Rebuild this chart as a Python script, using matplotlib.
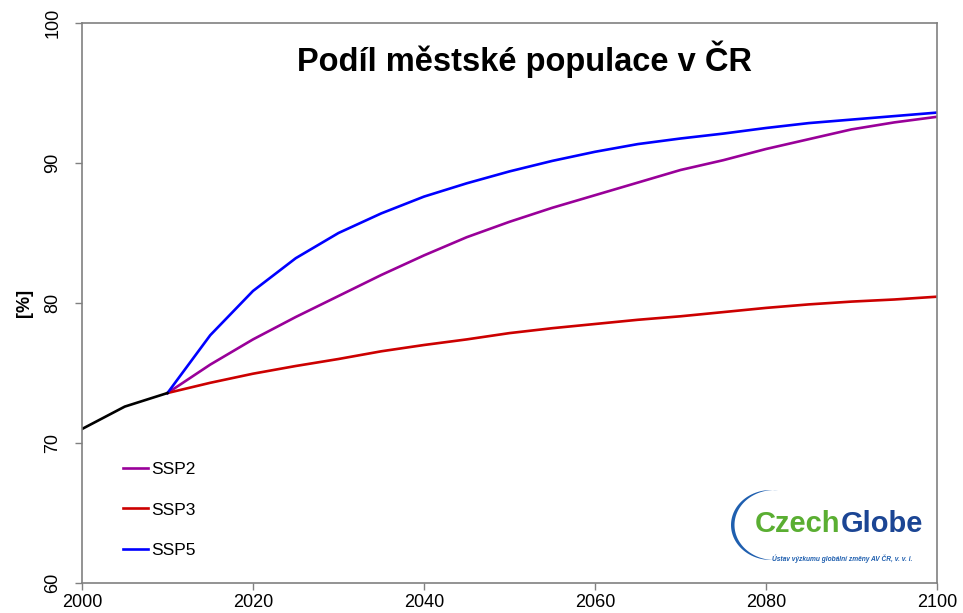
import matplotlib.pyplot as plt
from matplotlib.patches import Polygon
import numpy as np

plt.rcParams['font.family'] = ['Liberation Sans', 'DejaVu Sans']

# historie 2000-2010
roky_hist = [2000, 2005, 2010]
hist = [71.0, 72.6, 73.57]

# scenare SSP 2010-2100 po 5 letech
roky = list(range(2010, 2101, 5))
ssp2 = [73.57, 75.6, 77.4, 79.0, 80.5, 82.0, 83.4, 84.7, 85.8, 86.8, 87.7, 88.6,
        89.5, 90.2, 91.0, 91.7, 92.4, 92.9, 93.3]
ssp3 = [73.57, 74.3, 74.95, 75.5, 76.0, 76.55, 77.0, 77.4, 77.85, 78.2, 78.5, 78.8,
        79.05, 79.35, 79.65, 79.9, 80.1, 80.25, 80.45]
ssp5 = [73.57, 77.7, 80.86, 83.2, 85.0, 86.4, 87.6, 88.55, 89.4, 90.15, 90.8, 91.35,
        91.75, 92.1, 92.5, 92.85, 93.1, 93.35, 93.6]

nazvy = ['SSP2', 'SSP3', 'SSP5']
barvy = ['#990099', '#CC0000', '#0000FF']

W, H = 963, 613
fig = plt.figure(figsize=(W / 100, H / 100), dpi=100)
ax = fig.add_axes([82/W, 30/H, 855/W, 560/H])

for data, nazev, barva in zip([ssp2, ssp3, ssp5], nazvy, barvy):
    ax.plot(roky, data, color=barva, lw=1.9, label=nazev)
ax.plot(roky_hist, hist, color='black', lw=1.9)

ax.set_xlim(2000, 2100)
ax.set_ylim(60, 100)
ax.set_xticks(np.arange(2000, 2101, 20))
ax.set_yticks(np.arange(60, 101, 10))
for lbl in ax.get_yticklabels():
    lbl.set_rotation(90)
    lbl.set_va('center')
ax.tick_params(axis='both', colors='#808080', labelcolor='black', labelsize=13,
               length=5, width=1, direction='out')
ax.tick_params(axis='y', pad=10)
ax.tick_params(axis='x', pad=3)
for s in ax.spines.values():
    s.set_color('#808080')
    s.set_linewidth(1.2)

ax.set_ylabel('[%]', fontsize=13, fontweight='bold', labelpad=8)
ax.text(0.517, 0.935, 'Podíl městské populace v ČR', transform=ax.transAxes,
        ha='center', va='center', fontsize=23.5, fontweight='bold')

ax.legend(loc='lower left', bbox_to_anchor=(0.03, 0.017), frameon=False,
          fontsize=12.5, handlelength=1.45, handletextpad=0.15, labelspacing=1.45)

# logo CzechGlobe - srpek vlevo
t = np.radians(np.linspace(85, 275, 80))
cx, cy, rx, ry = 771, 525, 40, 35
vnejsi = np.column_stack([cx + rx * np.cos(t), H - (cy - ry * np.sin(t))])
vnitrni = np.column_stack([cx + 3.5 + rx * np.cos(t[::-1]), H - (cy - ry * np.sin(t[::-1]))])
srpek = np.vstack([vnejsi, vnitrni]) / [W, H]
fig.patches.append(Polygon(srpek, closed=True, transform=fig.transFigure,
                           facecolor='#1F5FAF', edgecolor='none'))

czech = fig.text(755/W, 1 - 524/H, 'Czech', color='#5AAE32', fontsize=21,
                 fontweight='bold', va='center', ha='left')
fig.canvas.draw()
ax.annotate('Globe', xy=(1, 0.5), xycoords=czech, va='center', ha='left',
            color='#1B4594', fontsize=21, fontweight='bold')
fig.text(772/W, 1 - 559/H, 'Ústav výzkumu globální změny AV ČR, v. v. i.',
         color='#1F5FAF', fontsize=4.8, fontweight='bold', style='italic',
         va='center', ha='left')

fig.savefig('out.png', dpi=100, facecolor='white')
